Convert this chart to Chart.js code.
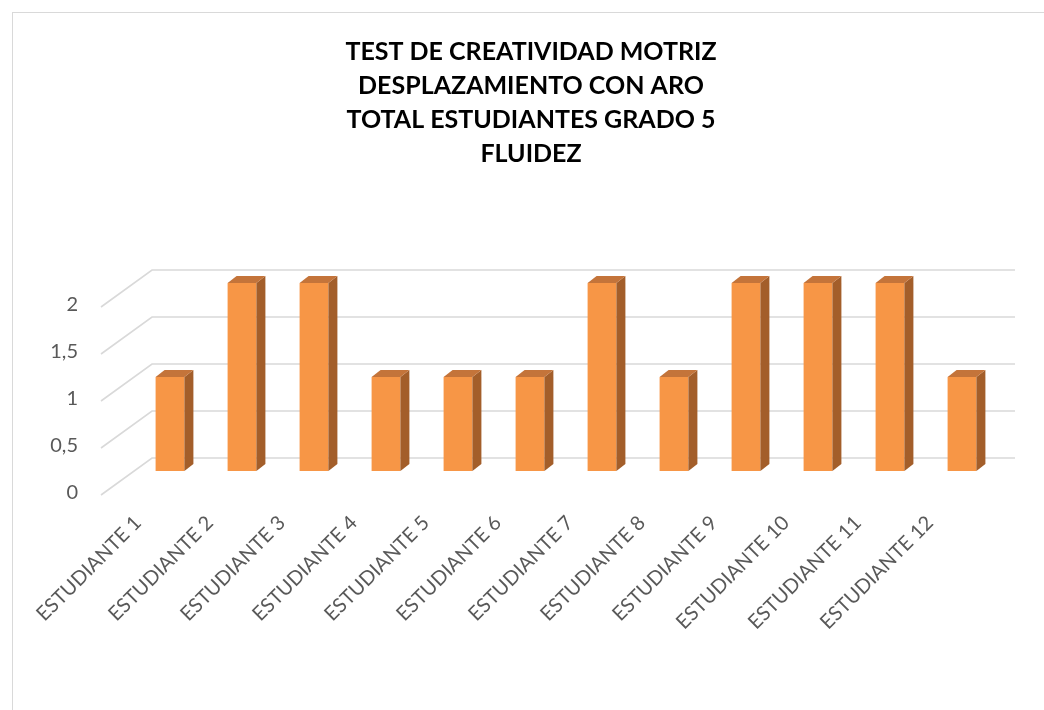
<!DOCTYPE html>
<html>
<head>
<meta charset="utf-8">
<script src="https://cdn.jsdelivr.net/npm/chart.js@4/dist/chart.umd.min.js"></script>
<style>
  body { margin: 0; background: #fff; }
  #wrap { position: relative; width: 1044px; height: 710px; }
</style>
</head>
<body>
<div id="wrap"><canvas id="fluidezChart"></canvas></div>
<script>
// Data
const students = ['ESTUDIANTE 1', 'ESTUDIANTE 2', 'ESTUDIANTE 3', 'ESTUDIANTE 4', 'ESTUDIANTE 5', 'ESTUDIANTE 6',
  'ESTUDIANTE 7', 'ESTUDIANTE 8', 'ESTUDIANTE 9', 'ESTUDIANTE 10', 'ESTUDIANTE 11', 'ESTUDIANTE 12'];
const fluidez = [1, 2, 2, 1, 1, 1, 2, 1, 2, 2, 2, 1];
const yTickLabels = ['0', '0,5', '1', '1,5', '2'];
const titleLines = ['TEST DE CREATIVIDAD MOTRIZ', 'DESPLAZAMIENTO CON ARO', 'TOTAL ESTUDIANTES GRADO 5', 'FLUIDEZ'];

// fake 3D look: back wall grid + side/top faces of the bars
const fake3d = {
  id: 'fake3d',
  beforeDraw(chart) {
    const c = chart.ctx;
    c.save();
    c.strokeStyle = '#d9d9d9';
    c.lineWidth = 1;
    c.strokeRect(12.5, 12.5, 1100, 800);  // chart frame
    c.restore();
  },
  beforeDatasetsDraw(chart) {
    const c = chart.ctx, y = chart.scales.y, area = chart.chartArea;
    c.save();
    c.strokeStyle = '#d9d9d9';
    c.lineWidth = 1.6;
    y.ticks.forEach(t => {
      const py = y.getPixelForValue(t.value);
      c.beginPath();
      c.moveTo(area.left - 33, py + 24);
      c.lineTo(area.left + 18, py - 13);
      c.lineTo(area.right + 17, py - 13);
      c.stroke();
    });
    c.restore();
  },
  afterDatasetsDraw(chart) {
    const c = chart.ctx;
    const dx = 9, dy = 7;
    c.save();
    chart.getDatasetMeta(0).data.forEach(bar => {
      const p = bar.getProps(['x', 'y', 'base', 'width'], true);
      const l = p.x - p.width / 2, r = p.x + p.width / 2;
      c.fillStyle = '#a35e2a';
      c.beginPath();
      c.moveTo(r, p.y); c.lineTo(r + dx, p.y - dy); c.lineTo(r + dx, p.base - dy); c.lineTo(r, p.base);
      c.closePath(); c.fill();
      c.fillStyle = '#c4743a';
      c.beginPath();
      c.moveTo(l, p.y); c.lineTo(l + dx, p.y - dy); c.lineTo(r + dx, p.y - dy); c.lineTo(r, p.y);
      c.closePath(); c.fill();
    });
    c.restore();
  }
};

const ctx = document.getElementById('fluidezChart').getContext('2d');
const chart = new Chart(ctx, {
  type: 'bar',
  data: {
    labels: students,
    datasets: [{
      label: 'Fluidez',
      data: fluidez,
      backgroundColor: '#f79646',
      borderWidth: 0,
      barPercentage: 0.4,
      categoryPercentage: 1,
      clip: false
    }]
  },
  options: {
    responsive: true,
    maintainAspectRatio: false,
    animation: false,
    layout: { padding: { left: 30, right: 12, top: 12, bottom: 0 } },
    plugins: {
      legend: { display: false },
      tooltip: { enabled: false },
      title: {
        display: true,
        text: titleLines,
        color: '#000',
        font: { family: 'Lato', size: 25, weight: 'bold', lineHeight: '34px' },
        padding: { top: 23, bottom: 112 }
      }
    },
    scales: {
      x: {
        grid: { display: false, drawTicks: false },
        border: { display: false },
        ticks: {
          autoSkip: false, minRotation: 45, maxRotation: 45,
          color: '#595959', font: { family: 'Lato', size: 20 },
          padding: 40, labelOffset: -32
        },
        afterFit(scale) { scale.height = 239; }
      },
      y: {
        min: 0, max: 2,
        grid: { display: false, drawTicks: false },
        border: { display: false },
        ticks: {
          stepSize: 0.5,
          color: '#595959', font: { family: 'Lato', size: 20 },
          padding: 56, labelOffset: 22,
          callback: (v, i) => yTickLabels[i]
        },
        afterFit(scale) { scale.width = 104; }
      },
      // empty right axis, only reserves space so the plot ends where the reference does
      yRight: {
        position: 'right',
        grid: { display: false, drawTicks: false },
        border: { display: false },
        ticks: { display: false },
        afterFit(scale) { scale.width = 34; }
      }
    }
  },
  plugins: [fake3d]
});
</script>
</body>
</html>
